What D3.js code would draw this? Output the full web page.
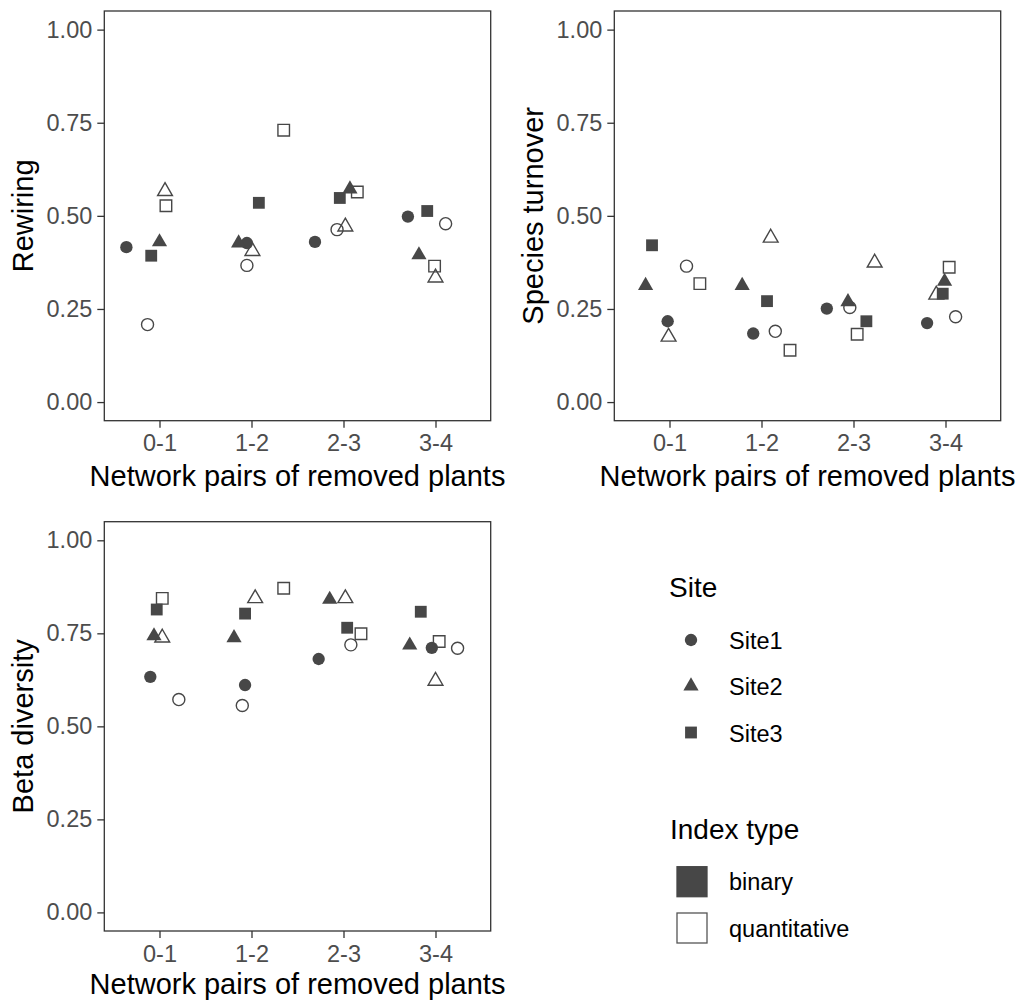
<!DOCTYPE html>
<html>
<head>
<meta charset="utf-8">
<script src="https://cdn.jsdelivr.net/npm/d3@7"></script>
<style>
  html, body { margin: 0; padding: 0; background: #fff; }
  svg { display: block; font-family: "Liberation Sans", Arial, sans-serif; }
</style>
</head>
<body>
<svg id="chart" width="1021" height="1003"></svg>
<script>
// ---------------- data ----------------
const categories = ["0-1", "1-2", "2-3", "3-4"];
const yTicks = [0, 0.25, 0.5, 0.75, 1];
const sites = ["Site1", "Site2", "Site3"];
const indexTypes = ["binary", "quantitative"];

// point keys (same order in every panel): per category S1b,S1q,S2b,S2q,S3b,S3q
const pointCategory = [0,0,0,0,0,0, 1,1,1,1,1,1, 2,2,2,2,2,2, 3,3,3,3,3,3];
const pointSite = ["Site1","Site1","Site2","Site2","Site3","Site3",
                   "Site1","Site1","Site2","Site2","Site3","Site3",
                   "Site1","Site1","Site2","Site2","Site3","Site3",
                   "Site1","Site1","Site2","Site2","Site3","Site3"];
const pointType = ["binary","quantitative","binary","quantitative","binary","quantitative",
                   "binary","quantitative","binary","quantitative","binary","quantitative",
                   "binary","quantitative","binary","quantitative","binary","quantitative",
                   "binary","quantitative","binary","quantitative","binary","quantitative"];

// Rewiring
const rewiringValue = [0.416, 0.208, 0.430, 0.566, 0.393, 0.527,
                       0.427, 0.367, 0.427, 0.405, 0.535, 0.730,
                       0.430, 0.463, 0.572, 0.471, 0.548, 0.564,
                       0.498, 0.479, 0.395, 0.334, 0.513, 0.365];
const rewiringJitter = [-0.36, -0.13, 0.00, 0.06, -0.09, 0.07,
                        -0.05, -0.05, -0.14, 0.01, 0.08, 0.35,
                        -0.31, -0.07, 0.07, 0.02, -0.04, 0.15,
                        -0.30, 0.11, -0.18, 0.00, -0.09, -0.01];

// Species turnover
const turnoverValue = [0.217, 0.365, 0.313, 0.175, 0.421, 0.318,
                       0.184, 0.190, 0.313, 0.441, 0.271, 0.139,
                       0.251, 0.254, 0.269, 0.374, 0.217, 0.182,
                       0.212, 0.229, 0.324, 0.288, 0.291, 0.362];
const turnoverJitter = [-0.02, 0.185, -0.26, -0.01, -0.19, 0.33,
                        -0.09, 0.15, -0.21, 0.10, 0.06, 0.31,
                        -0.29, -0.04, -0.06, 0.23, 0.14, 0.04,
                        -0.20, 0.11, -0.01, -0.10, -0.03, 0.04];

// Beta diversity
const betaValue = [0.633, 0.572, 0.743, 0.738, 0.814, 0.844,
                   0.611, 0.556, 0.738, 0.844, 0.803, 0.871,
                   0.681, 0.719, 0.841, 0.844, 0.765, 0.749,
                   0.711, 0.710, 0.718, 0.622, 0.808, 0.728];
const betaJitter = [-0.10, 0.21, -0.06, 0.03, -0.03, 0.03,
                    -0.07, -0.10, -0.19, 0.04, -0.07, 0.35,
                    -0.27, 0.08, -0.15, 0.02, 0.04, 0.19,
                    -0.04, 0.24, -0.28, 0.00, -0.16, 0.04];

// ---------------- drawing ----------------
const svg = d3.select("#chart");
const DARK = "#474747";
const TICKCOL = "#4D4D4D";
const AXISCOL = "#333333";

const shapeOf = d3.scaleOrdinal().domain(sites).range([d3.symbolCircle, d3.symbolTriangle, d3.symbolSquare]);
const sizeOf = { Site1: 120, Site2: 100, Site3: 140 };

function symbolPath(site, type) {
  const s = type === "binary" ? sizeOf[site] : sizeOf[site] * 0.95;
  return d3.symbol().type(shapeOf(site)).size(s)();
}

const panels = [
  { title: "Rewiring", values: rewiringValue, jitter: rewiringJitter,
    left: 104.3, right: 490.7, top: 11, bottom: 420.7, titleX: 33, xTitleY: 486 },
  { title: "Species turnover", values: turnoverValue, jitter: turnoverJitter,
    left: 614.3, right: 1000.7, top: 11, bottom: 420.7, titleX: 543, xTitleY: 486 },
  { title: "Beta diversity", values: betaValue, jitter: betaJitter,
    left: 104.3, right: 490.7, top: 521.7, bottom: 931, titleX: 33, xTitleY: 994 }
];

panels.forEach(p => {
  const x = d3.scaleLinear().domain([-0.6, categories.length - 1 + 0.6]).range([p.left, p.right]);
  const y = d3.scaleLinear().domain([-0.05, 1.05]).range([p.bottom, p.top]);
  const g = svg.append("g");

  // panel border
  g.append("rect")
    .attr("x", p.left).attr("y", p.top)
    .attr("width", p.right - p.left).attr("height", p.bottom - p.top)
    .attr("fill", "#fff").attr("stroke", AXISCOL).attr("stroke-width", 1.3);

  // y axis
  const yAxis = g.append("g").attr("transform", `translate(${p.left},0)`)
    .call(d3.axisLeft(y).tickValues(yTicks).tickFormat(d3.format(".2f")).tickSize(7).tickPadding(5));
  yAxis.select(".domain").remove();
  yAxis.selectAll(".tick line").attr("stroke", AXISCOL).attr("stroke-width", 1.3);
  yAxis.selectAll(".tick text").attr("fill", TICKCOL).attr("font-size", 23.5)
    .attr("font-family", "Liberation Sans, Arial, sans-serif");

  // x axis
  const xAxis = g.append("g").attr("transform", `translate(0,${p.bottom})`)
    .call(d3.axisBottom(x).tickValues(d3.range(categories.length)).tickFormat(i => categories[i]).tickSize(7).tickPadding(5));
  xAxis.select(".domain").remove();
  xAxis.selectAll(".tick line").attr("stroke", AXISCOL).attr("stroke-width", 1.3);
  xAxis.selectAll(".tick text").attr("fill", TICKCOL).attr("font-size", 23.5)
    .attr("font-family", "Liberation Sans, Arial, sans-serif")
    .attr("dy", null).attr("y", 30.5);

  // titles
  g.append("text")
    .attr("x", (p.left + p.right) / 2).attr("y", p.xTitleY)
    .attr("text-anchor", "middle").attr("font-size", 29).attr("fill", "#000")
    .text("Network pairs of removed plants");
  g.append("text")
    .attr("transform", `translate(${p.titleX},${(p.top + p.bottom) / 2}) rotate(-90)`)
    .attr("text-anchor", "middle").attr("font-size", 29).attr("fill", "#000")
    .text(p.title);

  // points
  const pts = p.values.map((v, i) => ({
    v, xpos: pointCategory[i] + p.jitter[i], site: pointSite[i], type: pointType[i]
  }));
  g.append("g").selectAll("path").data(pts).join("path")
    .attr("transform", d => `translate(${x(d.xpos)},${y(d.v)})`)
    .attr("d", d => symbolPath(d.site, d.type))
    .attr("fill", d => d.type === "binary" ? DARK : "none")
    .attr("stroke", d => d.type === "binary" ? "none" : DARK)
    .attr("stroke-width", 1.4);
});

// ---------------- legend ----------------
const leg = svg.append("g");
leg.append("text").attr("x", 669).attr("y", 597).attr("font-size", 28).attr("fill", "#000").text("Site");
const siteLegY = [640, 686, 732.5];
sites.forEach((s, i) => {
  leg.append("path")
    .attr("transform", `translate(691,${siteLegY[i]})`)
    .attr("d", symbolPath(s, "binary"))
    .attr("fill", DARK);
  leg.append("text").attr("x", 729).attr("y", siteLegY[i] + 9)
    .attr("font-size", 23.5).attr("fill", "#000").text(s);
});

leg.append("text").attr("x", 670).attr("y", 839).attr("font-size", 28).attr("fill", "#000").text("Index type");
const typeLegY = [881.7, 928];
indexTypes.forEach((t, i) => {
  leg.append("rect")
    .attr("x", 677).attr("y", typeLegY[i] - 15)
    .attr("width", 30).attr("height", 30)
    .attr("fill", t === "binary" ? DARK : "#fff")
    .attr("stroke", t === "binary" ? DARK : "#555").attr("stroke-width", 1.3);
  leg.append("text").attr("x", 729).attr("y", typeLegY[i] + 8.5)
    .attr("font-size", 23.5).attr("fill", "#000").text(t);
});
</script>
</body>
</html>
